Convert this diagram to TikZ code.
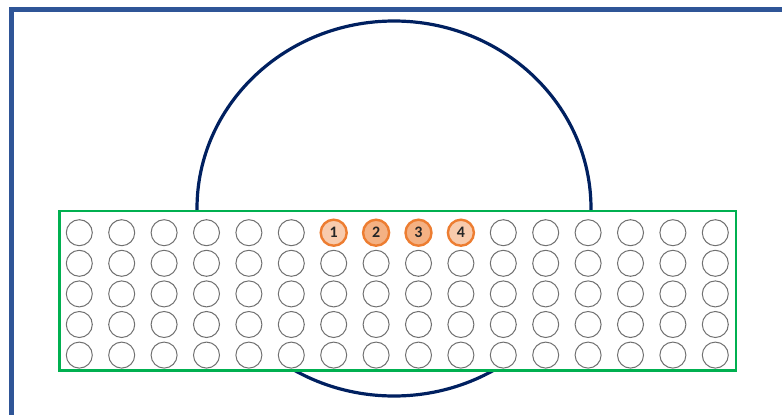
\documentclass[tikz,border=0pt]{standalone}
\usepackage{fontspec}
\setmainfont{Carlito}
\usetikzlibrary{positioning}

\definecolor{frameblue}{HTML}{2F5597}
\definecolor{domenavy}{HTML}{002060}
\definecolor{standgreen}{HTML}{00B050}
\definecolor{seatgray}{HTML}{707070}
\definecolor{bookedorange}{HTML}{ED7D31}
\definecolor{seatlight}{HTML}{F8CBAD}
\definecolor{seatdark}{HTML}{F4B183}

\tikzset{
    seat/.style={circle, draw=seatgray, line width=1pt, minimum size=26pt, inner sep=0pt},
    booked/.style={seat, draw=bookedorange, line width=2.4pt,
        font=\fontsize{16}{16}\selectfont\bfseries, text=black!85}
}

\begin{document}
\begin{tikzpicture}[x=1pt, y=-1pt]

    % Define variables/coordinates
    \def\Ncol{16}
    \def\Nrow{5}
    \def\Xo{79.3}
    \def\Yo{232.7}
    \def\Dx{42.4}
    \def\Dy{30.6}

    \useasboundingbox (0,0) rectangle (782,415);

    % Draw outer frame
    \draw[frameblue, line width=5pt, line join=miter] (11.5,415) -- (11.5,9.5) -- (782,9.5);

    % Draw dome
    \draw[domenavy, line width=3.2pt] (394,208.5) ellipse [x radius=197, y radius=187.5];

    % Draw stand
    \draw[standgreen, line width=2.4pt, fill=white] (59.3,211) rectangle (735.7,370.5);

    % Seats
    \foreach \r in {1,...,\Nrow} {
        \foreach \c in {1,...,\Ncol} {
            \pgfmathtruncatemacro\isbooked{(\r==1)&&(\c>6)&&(\c<11)}
            \ifnum\isbooked=0
                \node[seat] (s-\r-\c) at ({\Xo+(\c-1)*\Dx}, {\Yo+(\r-1)*\Dy}) {};
            \fi
        }
    }

    % Booked seats
    \foreach \c/\n/\tone in {7/1/seatlight, 8/2/seatdark, 9/3/seatdark, 10/4/seatlight}
        \node[booked, fill=\tone] (s-1-\c) at ({\Xo+(\c-1)*\Dx}, \Yo) {\n};

\end{tikzpicture}
\end{document}
